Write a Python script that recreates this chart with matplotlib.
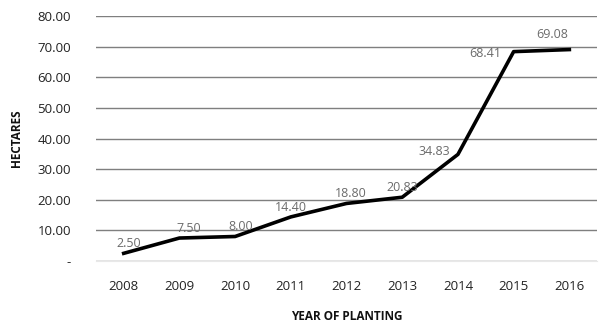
import matplotlib
matplotlib.use("Agg")
from matplotlib import pyplot as plt

years = ["2008", "2009", "2010", "2011", "2012", "2013", "2014", "2015", "2016"]
hectares = [2.50, 7.50, 8.00, 14.40, 18.80, 20.83, 34.83, 68.41, 69.08]
y_ticks = [0, 10, 20, 30, 40, 50, 60, 70, 80]
y_tick_labels = ["-", "10.00", "20.00", "30.00", "40.00", "50.00", "60.00", "70.00", "80.00"]
# label offsets in points (dx, dy) and alignment
label_pos = [(4, 7, "center"), (7, 7, "center"), (4, 7, "center"), (0, 7, "center"),
             (3, 7, "center"), (0, 7, "center"), (-17, 2, "center"), (-9, -1, "right"),
             (-12, 11, "center")]

plt.rcParams['font.family'] = ['Open Sans', 'DejaVu Sans']

fig = plt.figure(figsize=(5.99, 3.23), dpi=100)
ax = fig.add_axes([0.160, 0.192, 0.837, 0.758])

x = list(range(len(years)))
ax.plot(x, hectares, color="black", linewidth=2.6, solid_joinstyle="round", zorder=3)

for i, v in enumerate(hectares):
    dx, dy, ha = label_pos[i]
    ax.annotate("%.2f" % v, (i, v), xytext=(dx, dy), textcoords="offset points",
                ha=ha, va="center", fontsize=9, color="#6b6b6b")

ax.set_xlim(-0.5, len(years) - 0.5)
ax.set_ylim(0, 80)
ax.set_yticks(y_ticks)
ax.set_yticklabels(y_tick_labels)
ax.set_xticks(x)
ax.set_xticklabels(years)
ax.grid(axis="y", color="#7f7f7f", linewidth=1.0)
ax.set_axisbelow(True)
for s in ["top", "right", "left"]:
    ax.spines[s].set_visible(False)
ax.spines["bottom"].set_color("#e8e8e8")
ax.tick_params(length=0, labelsize=9.5, colors="#222222")
ax.tick_params(axis="x", pad=14)
ax.tick_params(axis="y", pad=18)

ax.set_ylabel("HECTARES", fontsize=8.5, fontweight="bold", color="#111111", labelpad=10)
ax.set_xlabel("YEAR OF PLANTING", fontsize=8.5, fontweight="bold", color="#111111", labelpad=12)

fig.savefig("out.png", dpi=100)
